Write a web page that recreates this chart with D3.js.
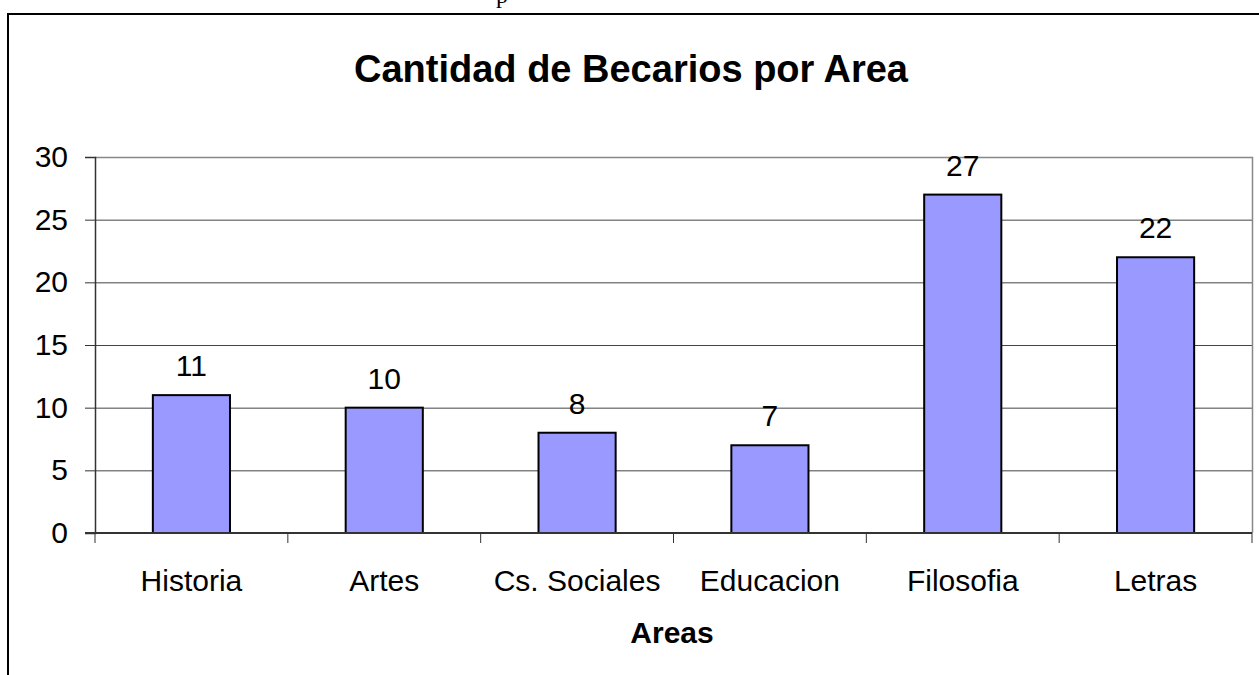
<html>
<head>
<meta charset="utf-8">
<script src="https://d3js.org/d3.v7.min.js"></script>
<style>
  body { margin: 0; background: #fff; }
  svg { font-family: "Liberation Sans", Arial, sans-serif; }
  .grid line { stroke: #444; stroke-width: 1px; }
  .tick-label { font-size: 30px; fill: #000; }
</style>
</head>
<body>
<div id="chart"></div>
<script>
var areas = ["Historia", "Artes", "Cs. Sociales", "Educacion", "Filosofia", "Letras"];
var becarios = [11, 10, 8, 7, 27, 22];
var yTicks = [0, 5, 10, 15, 20, 25, 30];

var width = 1259;
var height = 675;
var plot = {left: 95, right: 1252, top: 157, bottom: 533};

var svg = d3.select("#chart").append("svg")
  .attr("width", width)
  .attr("height", height);

/* stray text from the page above the chart */
svg.append("text")
  .attr("x", 496)
  .attr("y", 3)
  .style("font-family", "'Liberation Serif', serif")
  .style("font-size", "24px")
  .text("p");

/* outer chart frame, runs off the right and bottom edge */
svg.append("rect")
  .attr("x", 8)
  .attr("y", 14)
  .attr("width", 1300)
  .attr("height", 700)
  .attr("fill", "none")
  .attr("stroke", "#000")
  .attr("stroke-width", 2);

/* Scale */
var xScale = d3.scaleBand()
  .domain(areas)
  .range([plot.left, plot.right])
  .paddingInner(0.6)
  .paddingOuter(0.3);

var xCat = d3.scaleBand()
  .domain(areas)
  .range([plot.left, plot.right]);

var yScale = d3.scaleLinear()
  .domain([0, 30])
  .range([plot.bottom, plot.top]);

/* gridlines */
svg.append("g")
  .attr("class", "grid")
  .selectAll("line")
  .data(yTicks.filter(d => d > 0 && d < 30)).enter()
  .append("line")
  .attr("x1", plot.left)
  .attr("x2", plot.right)
  .attr("y1", d => yScale(d) + 0.5)
  .attr("y2", d => yScale(d) + 0.5);

/* plot border top / right */
svg.append("path")
  .attr("d", `M${plot.left},${yScale(30) + 0.5}H${plot.right + 0.5}V${plot.bottom}`)
  .attr("fill", "none")
  .attr("stroke", "#888")
  .attr("stroke-width", 1.5);

/* bars */
svg.append("g")
  .selectAll("rect")
  .data(becarios).enter()
  .append("rect")
  .attr("x", (d, i) => xScale(areas[i]))
  .attr("y", d => yScale(d))
  .attr("width", xScale.bandwidth())
  .attr("height", d => yScale(0) - yScale(d))
  .attr("fill", "#9999ff")
  .attr("stroke", "#000")
  .attr("stroke-width", 2);

/* value labels */
svg.append("g")
  .selectAll("text")
  .data(becarios).enter()
  .append("text")
  .attr("class", "tick-label")
  .attr("text-anchor", "middle")
  .attr("x", (d, i) => xScale(areas[i]) + xScale.bandwidth() / 2)
  .attr("y", d => yScale(d) - 19)
  .text(d => d);

/* Y axis */
var yAxis = d3.axisLeft(yScale)
  .tickValues(yTicks)
  .tickSize(10)
  .tickPadding(17);

var gy = svg.append("g")
  .attr("transform", `translate(${plot.left}, 0)`)
  .call(yAxis);
gy.select(".domain").attr("stroke", "#333").attr("stroke-width", 1.5);
gy.selectAll(".tick line").attr("stroke", "#333");
gy.selectAll(".tick text")
  .attr("class", "tick-label")
  .attr("font-family", null)
  .attr("font-size", null);

/* X axis: ticks on category boundaries */
var bounds = areas.map(a => xCat(a)).concat([plot.right]);
var gx = svg.append("g");
gx.append("line")
  .attr("x1", plot.left - 10)
  .attr("x2", plot.right)
  .attr("y1", plot.bottom)
  .attr("y2", plot.bottom)
  .attr("stroke", "#333")
  .attr("stroke-width", 2);
gx.selectAll(".xt")
  .data(bounds).enter()
  .append("line")
  .attr("class", "xt")
  .attr("x1", d => d)
  .attr("x2", d => d)
  .attr("y1", plot.bottom)
  .attr("y2", plot.bottom + 10)
  .attr("stroke", "#333");
gx.selectAll(".xl")
  .data(areas).enter()
  .append("text")
  .attr("class", "tick-label")
  .attr("text-anchor", "middle")
  .attr("x", d => xCat(d) + xCat.bandwidth() / 2)
  .attr("y", 591)
  .text(d => d);

/* titles */
svg.append("text")
  .attr("x", 631)
  .attr("y", 82)
  .attr("text-anchor", "middle")
  .style("font-size", "38px")
  .style("font-weight", "bold")
  .text("Cantidad de Becarios por Area");

svg.append("text")
  .attr("x", 672)
  .attr("y", 643)
  .attr("text-anchor", "middle")
  .style("font-size", "30px")
  .style("font-weight", "bold")
  .text("Areas");
</script>
</body>
</html>
